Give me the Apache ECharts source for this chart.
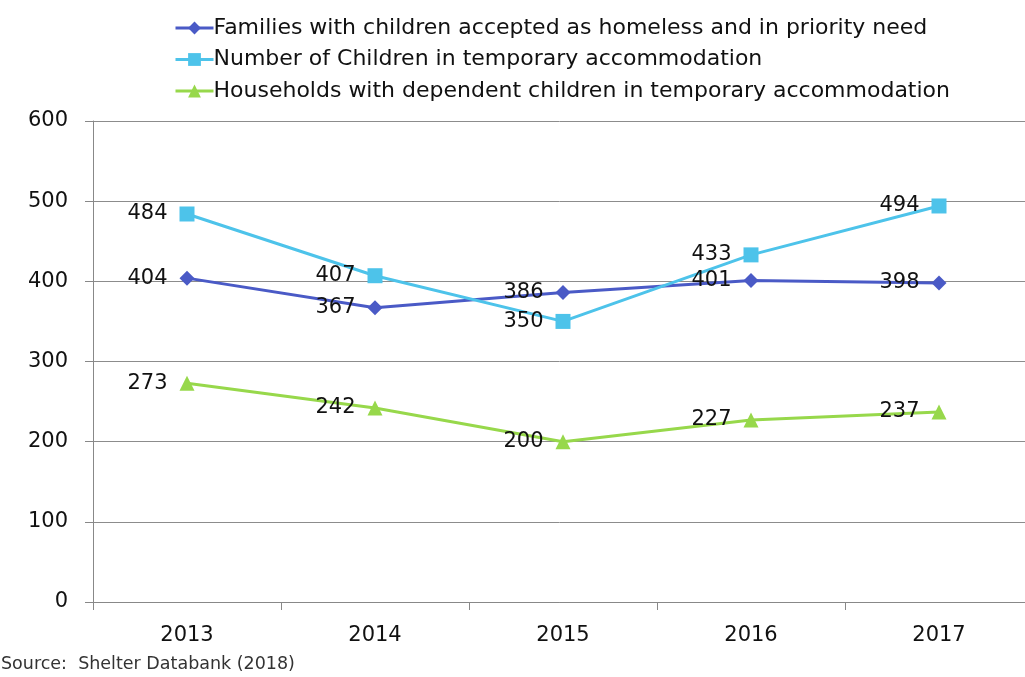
<!DOCTYPE html>
<html><head><meta charset="utf-8">
<script src="https://cdn.jsdelivr.net/npm/echarts@6/dist/echarts.min.js"></script>
<style>html,body{margin:0;padding:0;background:#fff}#c{width:1025px;height:677px}</style>
</head><body><div id="c"></div>
<script>
const years = ['2013','2014','2015','2016','2017'];
const families = [404, 367, 386, 401, 398];
const children = [484, 407, 350, 433, 494];
const households = [273, 242, 200, 227, 237];
const seriesNames = [
  'Families with children accepted as homeless and in priority need',
  'Number of Children in temporary accommodation',
  'Households with dependent children in temporary accommodation'
];
const FONT = 'DejaVu Sans';
const chart = echarts.init(document.getElementById('c'));
function mk(name, data, color, symbol, size){
  return {
    name, type:'line', data, symbol, symbolSize:size,
    lineStyle:{color, width:3}, itemStyle:{color},
    label:{show:true, position:'left', distance:12, color:'#111', fontSize:21, fontFamily:FONT},
    z: 3
  };
}
chart.setOption({
  animation:false,
  textStyle:{fontFamily:FONT},
  legend:{
    orient:'vertical', left:169, top:12, itemGap:9.5, itemWidth:38, itemHeight:16,
    lineStyle:{width:3},
    textStyle:{fontSize:22, color:'#111', fontFamily:FONT, padding:[0,0,0,-5]},
    data: seriesNames
  },
  grid:{left:93, width:940, top:121, bottom:75, outerBoundsMode:'none', containLabel:false},
  xAxis:{
    type:'category', data:years, boundaryGap:true,
    axisLine:{lineStyle:{color:'#888', width:1}},
    axisTick:{show:true, length:8, lineStyle:{color:'#888'}},
    axisLabel:{fontSize:21, color:'#111', margin:23, fontFamily:FONT},
    splitLine:{show:false}
  },
  yAxis:{
    type:'value', min:0, max:600, interval:100,
    axisLine:{show:true, lineStyle:{color:'#888'}},
    axisTick:{show:true, length:8, lineStyle:{color:'#888'}},
    axisLabel:{fontSize:21, color:'#111', margin:25, fontFamily:FONT},
    splitLine:{show:true, lineStyle:{color:'#8c8c8c', width:1}}
  },
  graphic:[{type:'text', left:1, top:655, style:{text:'Source:  Shelter Databank (2018)', fontSize:17.5, fill:'#333', fontFamily:FONT}}],
  series:[
    mk(seriesNames[0], families, '#4A5AC6', 'diamond', 15),
    mk(seriesNames[1], children, '#4DC3EA', 'rect', 15),
    mk(seriesNames[2], households, '#97D84B', 'triangle', 15)
  ]
});
</script></body></html>
